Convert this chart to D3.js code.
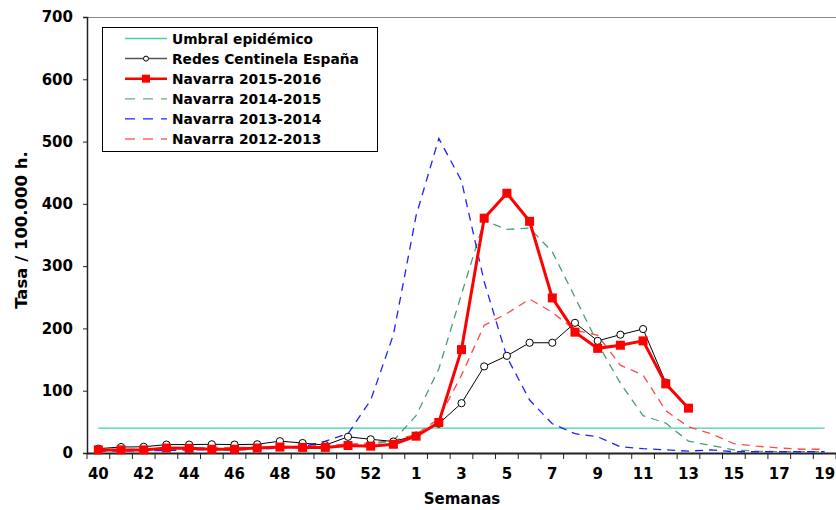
<!DOCTYPE html>
<html><head><meta charset="utf-8">
<script src="https://cdn.jsdelivr.net/npm/d3@7"></script>
<style>body{margin:0;background:#fff}svg{display:block}text{font-family:"DejaVu Sans",Verdana,sans-serif;font-weight:bold}</style>
</head><body>
<svg id="c" width="836" height="510"></svg>
<script>
const weeks = ["40","41","42","43","44","45","46","47","48","49","50","51","52","53","1","2","3","4","5","6","7","8","9","10","11","12","13","14","15","16","17","18","19"];
const tickLabels = ["40","42","44","46","48","50","52","1","3","5","7","9","11","13","15","17","19"];
const yTicks = [0,100,200,300,400,500,600,700];
const umbral = 40;
const redes = [7,9.6,10,13.5,13.5,14,13.5,14,19,16,12.6,26,22,18.5,28,47,80,139,156,177,177,209,180,190,199,113];
const nav1516 = [5,5,5,8,7.5,6,6,8,9.5,9,9,12,11,14,27,49,166,377,417,372,249,194,168,173,180,111,72];
const nav1415 = [5,5,6,6,7,7,8,8,9,10,10,12,14,20,60,135,255,373,359,361,323,250,176,112,60,48,19,12,5,3,2,2,2];
const nav1314 = [3,3,4,4,5,5,5,6,8,10,19,31,85,190,381,505,437,275,154,85,47,31,26,10,7,5,3,5,2,2,2,2,2];
const nav1213 = [4,5,6,7,8,8,9,9,10,11,12,14,16,20,30,55,125,205,224,247,226,197,189,141,125,68,42,31,15,11,8,6,6];
const legendNames = ["Umbral epidémico","Redes Centinela España","Navarra 2015-2016","Navarra 2014-2015","Navarra 2013-2014","Navarra 2012-2013"];

const svg = d3.select("#c");
const x = d3.scaleBand().domain(weeks).range([87, 836]).padding(0);
const y = d3.scaleLinear().domain([0, 700]).range([453, 17]);
const cx = w => x(w) + x.bandwidth() / 2;

// top border
svg.append("line").attr("x1",87).attr("x2",836).attr("y1",17.5).attr("y2",17.5).attr("stroke","#888").attr("stroke-width",1);

// y axis
const ya = svg.append("g").attr("transform","translate(87,0)")
  .call(d3.axisLeft(y).tickValues(yTicks).tickSize(4).tickPadding(10).tickFormat(d3.format("d")));
ya.select(".domain").attr("stroke","#222").attr("stroke-width",1.5);
ya.selectAll(".tick line").attr("stroke","#222");
ya.selectAll("text").attr("font-size","15px").attr("fill","#000").attr("font-family","DejaVu Sans").attr("font-weight","bold");

// x axis
const xa = svg.append("g").attr("transform","translate(0,453)")
  .call(d3.axisBottom(x).tickSize(0).tickPadding(15).tickFormat(d => tickLabels.includes(d) && (weeks.indexOf(d)%2===0) ? d : ""));
xa.select(".domain").attr("stroke","#222").attr("stroke-width",2);
xa.selectAll("text").attr("font-size","15px").attr("fill","#000").attr("font-family","DejaVu Sans").attr("font-weight","bold");
// boundary ticks
svg.append("g").selectAll("line").data(weeks.concat(["end"])).join("line")
  .attr("x1",(d,i)=> i<weeks.length ? x(d) : x.range()[1]).attr("x2",(d,i)=> i<weeks.length ? x(d) : x.range()[1])
  .attr("y1",453).attr("y2",459).attr("stroke","#222").attr("stroke-width",1);

// axis titles
svg.append("text").attr("transform","translate(27,230) rotate(-90)").attr("text-anchor","middle")
  .attr("font-size","16.5px").text("Tasa / 100.000 h.");
svg.append("text").attr("x",462).attr("y",504).attr("text-anchor","middle").attr("font-size","15px").text("Semanas");

const line = d3.line().defined(d => d.v != null).x(d => cx(d.w)).y(d => y(d.v));
const toPts = arr => arr.map((v,i) => ({w: weeks[i], v}));

// umbral
svg.append("path").datum(weeks.map(w => ({w, v: umbral}))).attr("d", line)
  .attr("fill","none").attr("stroke","#3CD3A8").attr("stroke-width",1.3);

const dashed = [
  {data: nav1213, color: "#FF4A4A"},
  {data: nav1415, color: "#4A9E72"},
  {data: nav1314, color: "#2020FF"}
];
dashed.forEach(s => {
  svg.append("path").datum(toPts(s.data)).attr("d", line).attr("fill","none")
    .attr("stroke", s.color).attr("stroke-width",1.3).attr("stroke-dasharray","8,6");
});

// redes
svg.append("path").datum(toPts(redes)).attr("d", line).attr("fill","none").attr("stroke","#000").attr("stroke-width",1);
svg.append("g").selectAll("circle").data(toPts(redes)).join("circle")
  .attr("cx", d => cx(d.w)).attr("cy", d => y(d.v)).attr("r",3.6)
  .attr("fill","#fff").attr("stroke","#000").attr("stroke-width",1);

// navarra 15-16
svg.append("path").datum(toPts(nav1516)).attr("d", line).attr("fill","none").attr("stroke","#FF0000").attr("stroke-width",3);
svg.append("g").selectAll("rect").data(toPts(nav1516)).join("rect")
  .attr("x", d => cx(d.w)-4.5).attr("y", d => y(d.v)-4.5).attr("width",9).attr("height",9).attr("fill","#FF0000");

// legend
const lg = svg.append("g");
lg.append("rect").attr("x",102.5).attr("y",27.5).attr("width",275).attr("height",124).attr("fill","#fff").attr("stroke","#000").attr("stroke-width",1);
const styles = [
  {color:"#3CD3A8", w:1.3, dash:null},
  {color:"#555", w:1.5, dash:null, circle:true},
  {color:"#FF0000", w:2.5, dash:null, square:true},
  {color:"#66AA88", w:1.3, dash:"10,8"},
  {color:"#2020FF", w:1.3, dash:"10,8"},
  {color:"#FF6666", w:1.3, dash:"10,8"}
];
legendNames.forEach((n,i) => {
  const yy = 38.5 + i*20.1;
  const s = styles[i];
  lg.append("line").attr("x1",125).attr("x2",167).attr("y1",yy).attr("y2",yy)
    .attr("stroke",s.color).attr("stroke-width",s.w).attr("stroke-dasharray",s.dash);
  if (s.circle) lg.append("circle").attr("cx",146).attr("cy",yy).attr("r",2.5).attr("fill","#fff").attr("stroke","#000");
  if (s.square) lg.append("rect").attr("x",142).attr("y",yy-4).attr("width",8).attr("height",8).attr("fill","#FF0000");
  lg.append("text").attr("x",172).attr("y",yy+5).attr("font-size","13.8px").text(n);
});
</script>
</body></html>
